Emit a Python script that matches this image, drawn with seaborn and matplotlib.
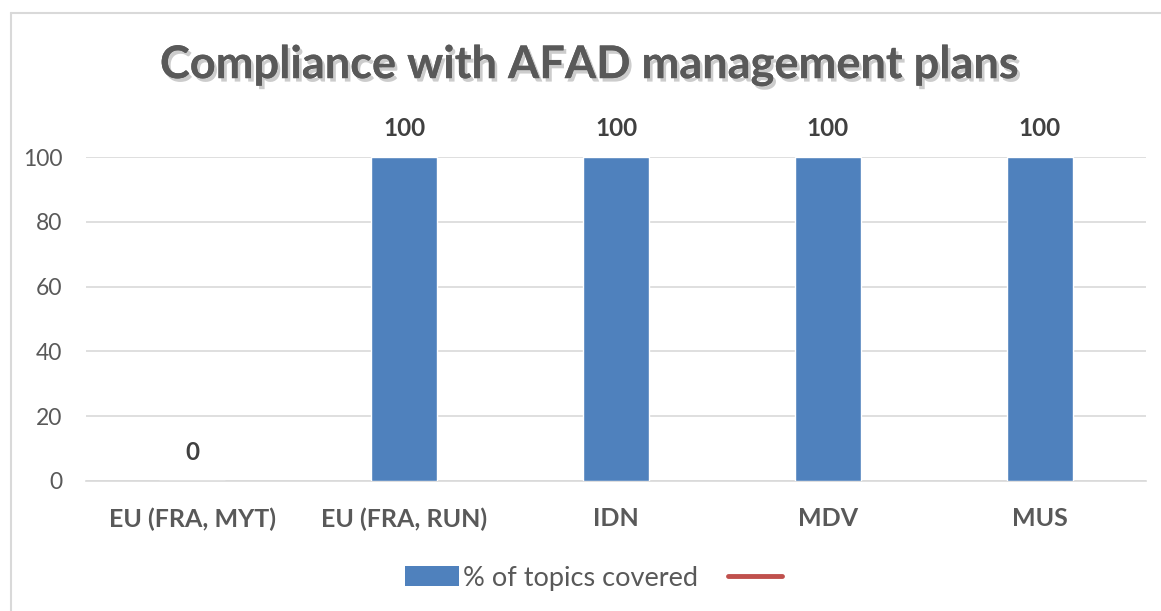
import matplotlib
matplotlib.use("Agg")
import matplotlib.pyplot as plt
import matplotlib.patheffects as pe
from matplotlib.lines import Line2D
from matplotlib.patches import Patch
import seaborn as sns
import pandas as pd

categories = ["EU (FRA, MYT)", "EU (FRA, RUN)", "IDN", "MDV", "MUS"]
topics_covered = [0, 100, 100, 100, 100]
series_name = "% of topics covered"
chart_title = "Compliance with AFAD management plans"

df = pd.DataFrame({"country": categories, "pct": topics_covered})

sns.set_style("white")
plt.rcParams["font.family"] = ["Lato", "DejaVu Sans"]

grey = "#595959"
blue = "#4F81BD"
red = "#C0504D"

fig = plt.figure(figsize=(11.61, 6.11), dpi=100)
ax = fig.add_axes([0.0741, 0.2128, 0.9129, 0.530])

sns.barplot(data=df, x="country", y="pct", color=blue, width=0.31,
            saturation=1, ax=ax, zorder=3)

ax.set_ylim(0, 100)
ax.set_yticks(range(0, 101, 20))
ax.yaxis.grid(True, color="#D9D9D9", linewidth=1.2, zorder=0)
ax.set_axisbelow(True)
for s in ["left", "right", "top"]:
    ax.spines[s].set_visible(False)
ax.spines["bottom"].set_color("#D9D9D9")
ax.spines["bottom"].set_linewidth(1.2)
ax.set_xlabel("")
ax.set_ylabel("")
ax.tick_params(axis="y", length=0, pad=17, labelsize=16.5, labelcolor=grey)
ax.tick_params(axis="x", length=0, pad=19, labelsize=18, labelcolor=grey)
for lbl in ax.get_xticklabels():
    lbl.set_fontweight("bold")

for i, v in enumerate(topics_covered):
    ax.annotate(f"{v}", (i, v), xytext=(0, 12), textcoords="offset points",
                ha="center", va="bottom", fontsize=17.5, fontweight="bold",
                color="#404040", annotation_clip=False)

fig.text(0.508, 0.893, chart_title, ha="center", va="center",
         fontsize=32.5, fontweight="bold", color=grey,
         path_effects=[pe.withSimplePatchShadow(offset=(2, -2.5), shadow_rgbFace="black", alpha=0.2),
                       pe.Normal()])

handles = [Patch(facecolor=blue, edgecolor="none"),
           Line2D([0], [0], color=red, linewidth=3.5, solid_capstyle="round")]
fig.legend(handles, [series_name, " "], loc="center", bbox_to_anchor=(0.516, 0.054),
           ncol=2, frameon=False, fontsize=19.5, labelcolor=grey,
           handlelength=2.0, handleheight=0.8, handletextpad=0.15, columnspacing=1.1)

# chart-area border (top and left edges visible in the reference crop)
fig.add_artist(Line2D([0.0095, 0.0095], [0, 0.979], transform=fig.transFigure,
                      color="#D9D9D9", linewidth=1.5))
fig.add_artist(Line2D([0.0095, 1.0], [0.979, 0.979], transform=fig.transFigure,
                      color="#D9D9D9", linewidth=1.5))

fig.savefig("out.png", dpi=100, facecolor="white")
